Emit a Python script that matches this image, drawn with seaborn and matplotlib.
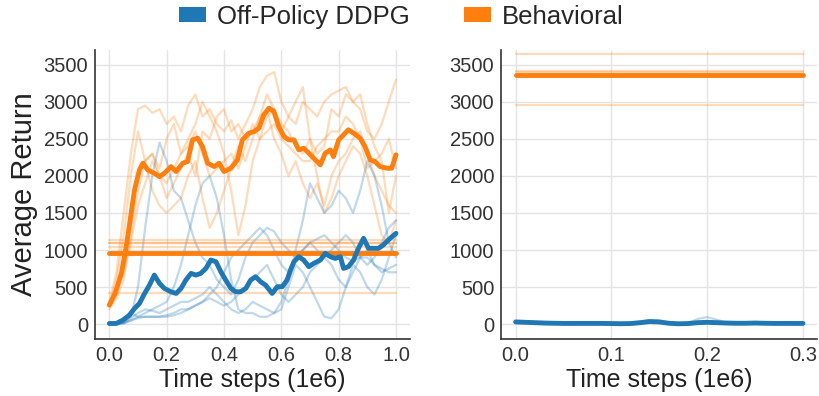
import numpy as np
import pandas as pd
import matplotlib
matplotlib.use("Agg")
import matplotlib.pyplot as plt
from matplotlib.patches import Patch
import seaborn as sns

# ---------------- data ----------------
# Left panel: learning curves on a 0.025 grid (time steps in 1e6)
steps_left = [round(0.025 * i, 3) for i in range(41)]

behavioral_runs = [
    [300, 700, 1500, 2300, 2900, 2950, 2850, 2900, 2700, 2800, 2600, 2950, 3100, 2800, 2900, 2700, 2600, 2750, 2500, 2700,
     2900, 3200, 3350, 3400, 3000, 2800, 2700, 3000, 2900, 2800, 3000, 3100, 3150, 3200, 3000, 2900, 2600, 2500, 2700, 3000, 3300],
    [250, 400, 800, 1500, 2000, 2200, 2300, 2100, 2500, 2700, 2300, 2500, 2700, 3000, 2800, 2600, 2300, 1800, 1200, 1600,
     2200, 2500, 2800, 2900, 2600, 2800, 3000, 3200, 2500, 2300, 2400, 2900, 2800, 3100, 3000, 3100, 2700, 2400, 2200, 1500, 2000],
    [200, 350, 600, 1200, 1800, 2200, 2300, 2000, 1700, 1900, 2100, 2300, 2000, 2600, 2500, 2800, 2900, 2600, 2700, 2500,
     2600, 2800, 2900, 2500, 2300, 2000, 2200, 1900, 1700, 1900, 1600, 2000, 2200, 2300, 2500, 2600, 2300, 2000, 1800, 1600, 1500],
    [250, 600, 1200, 2000, 2600, 2200, 1800, 1600, 1500, 1600, 1700, 2000, 2200, 1700, 1300, 1500, 1800, 2100, 2400, 2200,
     2500, 2800, 3100, 2900, 2700, 2600, 2400, 2300, 2500, 2000, 1500, 1700, 2000, 2200, 2400, 2300, 2000, 1600, 1200, 1100, 1400],
    [300, 450, 700, 1100, 1600, 1900, 2200, 2000, 1900, 2100, 2300, 2400, 2600, 2300, 2000, 2100, 2200, 2300, 2100, 2400,
     2700, 2500, 2600, 2700, 2500, 2400, 2300, 2200, 2200, 2400, 2500, 2600, 2600, 2800, 2700, 2500, 2100, 2200, 2300, 2500, 2100],
]

ddpg_runs = [
    [0, 10, 20, 100, 500, 1300, 2000, 2450, 2200, 1800, 1700, 1400, 1100, 900, 800, 600, 500, 400, 600, 900,
     1100, 1200, 1300, 1250, 1100, 1000, 900, 1000, 1100, 1000, 900, 1000, 1100, 1200, 1100, 900, 800, 900, 1100, 1300, 1400],
    [0, 5, 10, 50, 100, 150, 200, 250, 300, 500, 800, 1200, 1600, 1900, 2000, 1700, 1200, 600, 200, 150,
     150, 100, 100, 150, 300, 600, 1000, 1400, 1900, 1700, 1500, 1600, 1800, 1700, 1500, 1800, 2200, 2000, 1600, 1100, 900],
    [0, 5, 10, 50, 80, 100, 100, 100, 120, 150, 200, 200, 250, 300, 400, 500, 700, 900, 1000, 1100,
     1200, 1300, 1200, 1000, 800, 700, 900, 1000, 1100, 1150, 1200, 1100, 1000, 900, 850, 900, 900, 800, 750, 700, 700],
    [0, 5, 20, 80, 150, 200, 180, 150, 200, 250, 300, 300, 350, 400, 500, 400, 300, 200, 150, 200,
     300, 250, 200, 150, 200, 500, 800, 700, 500, 300, 100, 80, 200, 500, 800, 700, 500, 400, 600, 900, 1200],
    [0, 5, 50, 150, 100, 100, 100, 100, 100, 120, 150, 200, 250, 300, 350, 300, 250, 300, 400, 500,
     600, 700, 800, 600, 400, 300, 400, 500, 700, 800, 900, 800, 600, 500, 700, 900, 1000, 800, 700, 750, 800],
]

# Smoothed averages of the runs above
steps_mean = [0.0, 0.02, 0.042, 0.059, 0.076, 0.088, 0.105, 0.117, 0.134, 0.157, 0.175, 0.192, 0.215, 0.233, 0.256,
              0.273, 0.29, 0.308, 0.325, 0.343, 0.366, 0.383, 0.4, 0.424, 0.447, 0.464, 0.487, 0.505, 0.522, 0.539,
              0.557, 0.574, 0.591, 0.609, 0.626, 0.644, 0.661, 0.678, 0.696, 0.719, 0.736, 0.753, 0.771, 0.782, 0.8,
              0.817, 0.834, 0.852, 0.875, 0.892, 0.91, 0.927, 0.944, 0.968, 0.985, 1.0]
behavioral_mean = [257, 414, 685, 1045, 1495, 1811, 2081, 2171, 2081, 2036, 1990, 2036, 2126, 2059, 2171,
                   2194, 2486, 2509, 2396, 2171, 2126, 2171, 2059, 2104, 2216, 2486, 2577, 2599, 2644, 2824,
                   2914, 2869, 2667, 2532, 2486, 2486, 2351, 2374, 2306, 2216, 2149, 2306, 2351, 2261, 2486,
                   2554, 2622, 2577, 2509, 2396, 2216, 2194, 2126, 2104, 2104, 2284]

steps_ddpg_mean = [0.0, 0.024, 0.047, 0.07, 0.088, 0.105, 0.123, 0.14, 0.157, 0.175, 0.192, 0.215, 0.233, 0.25,
                   0.267, 0.285, 0.302, 0.319, 0.337, 0.354, 0.372, 0.389, 0.406, 0.424, 0.441, 0.458, 0.476,
                   0.493, 0.51, 0.528, 0.545, 0.568, 0.586, 0.603, 0.62, 0.632, 0.644, 0.661, 0.678, 0.696,
                   0.713, 0.736, 0.753, 0.771, 0.788, 0.806, 0.817, 0.834, 0.852, 0.869, 0.887, 0.904, 0.921,
                   0.939, 0.956, 0.973, 1.0]
ddpg_mean = [9, 9, 54, 122, 212, 279, 414, 527, 662, 550, 482, 437, 414, 482, 595, 685, 662, 685, 752, 865,
             842, 707, 595, 482, 437, 437, 482, 595, 640, 572, 527, 414, 505, 505, 595, 730, 842, 910, 865,
             775, 820, 865, 955, 910, 887, 910, 752, 775, 865, 1023, 1158, 1023, 1023, 1023, 1068, 1135, 1225]

# Final returns of the behavioral policy (constant over training)
behavioral_final_left = [1135, 1100, 1090, 1036, 414]
behavioral_final_right = [3649, 3410, 3400, 3380, 2960]

# Right panel: off-policy DDPG on a 0.01 grid
steps_right = [round(0.01 * i, 2) for i in range(31)]
ddpg_right_mean = [30, 25, 20, 15, 12, 10, 10, 10, 10, 10, 8, 6, 8, 20, 35, 30, 12, 5, 8, 20, 25, 20, 15, 12, 12,
                   15, 12, 10, 10, 10, 10]
ddpg_right_runs = [
    [35, 30, 22, 16, 12, 10, 10, 10, 10, 10, 8, 6, 10, 35, 55, 45, 15, 5, 8, 15, 20, 15, 12, 10, 12, 15, 12, 10, 10, 10, 10],
    [28, 22, 18, 14, 12, 10, 10, 10, 10, 10, 8, 6, 8, 15, 20, 20, 10, 5, 15, 70, 95, 60, 20, 12, 12, 15, 12, 10, 10, 10, 10],
    [30, 25, 20, 15, 12, 10, 10, 10, 10, 10, 8, 6, 8, 18, 30, 28, 12, 5, 8, 18, 22, 18, 15, 12, 12, 15, 12, 10, 10, 10, 10],
]

BLUE = "#1f77b4"
ORANGE = "#ff7f0e"

# ---------------- tables ----------------
def runs_frame(steps, runs, name):
    rows = []
    for r, vals in enumerate(runs):
        for s, v in zip(steps, vals):
            rows.append({"step": s, "ret": v, "run": f"{name}-{r}", "agent": name})
    return pd.DataFrame(rows)

left_runs = pd.concat([runs_frame(steps_left, behavioral_runs, "Behavioral"),
                       runs_frame(steps_left, ddpg_runs, "Off-Policy DDPG")])
left_flat = runs_frame([0.0, 1.0], [[v, v] for v in behavioral_final_left], "Behavioral")
right_flat = runs_frame([0.0, 0.3], [[v, v] for v in behavioral_final_right], "Behavioral")
right_runs = runs_frame(steps_right, ddpg_right_runs, "Off-Policy DDPG")

palette = {"Off-Policy DDPG": BLUE, "Behavioral": ORANGE}

# ---------------- style ----------------
sns.set_theme(style="whitegrid")
plt.rcParams["font.family"] = ["Liberation Sans", "DejaVu Sans"]
plt.rcParams.update({
    "grid.color": "#e4e4e4",
    "grid.linewidth": 1.0,
    "axes.edgecolor": "#333333",
    "axes.linewidth": 1.2,
    "xtick.color": "#333333",
    "ytick.color": "#333333",
    "axes.labelcolor": "#222222",
})

fig = plt.figure(figsize=(8.19, 3.96), dpi=100)
ax1 = fig.add_axes([0.116, 0.144, 0.385, 0.730])
ax2 = fig.add_axes([0.612, 0.144, 0.386, 0.730])

thin = dict(units="run", estimator=None, palette=palette, hue="agent", legend=False,
            linewidth=1.6, alpha=0.28, x="step", y="ret")
THICK = 3.5

# left panel
sns.lineplot(data=left_runs, ax=ax1, **thin)
sns.lineplot(data=left_flat, ax=ax1, **thin)
sns.lineplot(x=[0.0, 1.0], y=[np.mean(behavioral_final_left)] * 2, ax=ax1, color=ORANGE, linewidth=THICK)
sns.lineplot(x=steps_mean, y=behavioral_mean, ax=ax1, color=ORANGE, linewidth=THICK)
sns.lineplot(x=steps_ddpg_mean, y=ddpg_mean, ax=ax1, color=BLUE, linewidth=THICK)

# right panel
sns.lineplot(data=right_flat, ax=ax2, **thin)
sns.lineplot(data=right_runs, ax=ax2, **thin)
sns.lineplot(x=[0.0, 0.3], y=[np.mean(behavioral_final_right)] * 2, ax=ax2, color=ORANGE, linewidth=THICK)
sns.lineplot(x=steps_right, y=ddpg_right_mean, ax=ax2, color=BLUE, linewidth=THICK)

for ax, xmax, xticks in [(ax1, 1.0, np.arange(0, 1.01, 0.2)), (ax2, 0.3, np.arange(0, 0.301, 0.1))]:
    ax.set_xlim(-0.05 * xmax, 1.05 * xmax)
    ax.set_ylim(-200, 3700)
    ax.set_xticks(xticks)
    ax.set_xticklabels([f"{t:.1f}" for t in xticks])
    ax.set_yticks(range(0, 3501, 500))
    ax.tick_params(axis="both", labelsize=14.5, length=0, pad=5)
    ax.set_xlabel("Time steps (1e6)", fontsize=18, labelpad=2)
    ax.set_ylabel("")
    sns.despine(ax=ax)

ax1.set_ylabel("Average Return", fontsize=21, labelpad=4)

handles = [Patch(facecolor=BLUE, edgecolor="none", label="Off-Policy DDPG"),
           Patch(facecolor=ORANGE, edgecolor="none", label="Behavioral")]
fig.legend(handles=handles, loc="center", bbox_to_anchor=(0.49, 0.958), ncol=2, frameon=False,
           fontsize=18.5, handlelength=1.05, handleheight=0.5, handletextpad=0.45, columnspacing=2.1)

fig.savefig("out.png", dpi=100)
